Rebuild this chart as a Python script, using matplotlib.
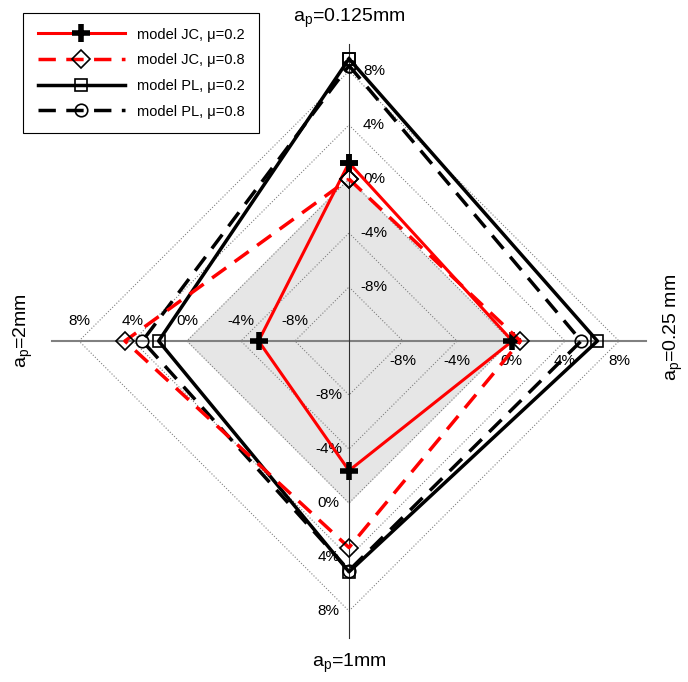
import numpy as np
import matplotlib
matplotlib.use('Agg')
import matplotlib.pyplot as plt

plt.rcParams['font.family'] = ['Liberation Sans', 'DejaVu Sans']

# axes: top, right, bottom, left
axis_names = [r'a$_\mathregular{p}$=0.125mm', r'a$_\mathregular{p}$=0.25 mm',
              r'a$_\mathregular{p}$=1mm', r'a$_\mathregular{p}$=2mm']
ticks = [-8, -4, 0, 4, 8]
r_min, r_max = -12, 10

jc_02 = [1.2, 0.1, -2.4, -5.3]
jc_08 = [0.0, 0.7, 3.3, 4.6]
pl_02 = [8.9, 6.4, 5.1, 2.1]
pl_08 = [8.4, 5.2, 5.0, 3.3]

dirs = np.array([[0, 1], [1, 0], [0, -1], [-1, 0]])
perp = np.array([[1, 0], [0, -1], [-1, 0], [0, 1]])


def to_xy(vals):
    r = np.asarray(vals) - r_min
    pts = dirs * r[:, None]
    pts = np.vstack([pts, pts[:1]])
    return pts[:, 0], pts[:, 1]


px = 13.5  # pixels per percent
fig = plt.figure(figsize=(6.88, 6.82), dpi=100)
ax = fig.add_axes([0, 0, 1, 1])
ax.set_xlim(-349 / px, (688 - 349) / px)
ax.set_ylim(-341 / px, 341 / px)
ax.axis('off')

# shaded 0% region
gx, gy = to_xy([0, 0, 0, 0])
ax.fill(gx, gy, color='#e6e6e6', zorder=0)

# dotted grid diamonds
for t in ticks:
    gx, gy = to_xy([t] * 4)
    ax.plot(gx, gy, ls=':', color='#808080', lw=0.8, zorder=1)

# axis lines
R = r_max - r_min
ax.plot([-R, R], [0, 0], color='#808080', lw=1.5, zorder=1)
ax.plot([0, 0], [-R, R], color='#303030', lw=0.8, zorder=1)

# tick labels
for i in range(4):
    off = 1.85 if i == 0 else 1.5
    for t in ticks:
        p = dirs[i] * (t - r_min) + perp[i] * off
        ax.text(p[0], p[1], '%d%%' % t, ha='center', va='center', fontsize=11)

# axis titles
ax.text(0, 23.9, axis_names[0], ha='center', va='center', fontsize=14)
ax.text(24.0, 1.0, axis_names[1], ha='center', va='center', fontsize=14, rotation=90)
ax.text(0, -23.9, axis_names[2], ha='center', va='center', fontsize=14)
ax.text(-24.1, 0.8, axis_names[3], ha='center', va='center', fontsize=14, rotation=90)

dash = (0, (5, 3))
x, y = to_xy(pl_02)
ax.plot(x, y, color='black', lw=2.5, marker='s', ms=8, mfc='none', mec='black', mew=1.2,
        label='model PL, μ=0.2', zorder=3)
x, y = to_xy(pl_08)
ax.plot(x, y, color='black', lw=2.5, ls=dash, marker='o', ms=9, mfc='none', mec='black', mew=1.2,
        label='model PL, μ=0.8', zorder=3)
x, y = to_xy(jc_02)
ax.plot(x, y, color='red', lw=2.2, marker='+', ms=13, mec='black', mew=4,
        label='model JC, μ=0.2', zorder=4)
x, y = to_xy(jc_08)
ax.plot(x, y, color='red', lw=2.5, ls=dash, marker='D', ms=9.5, mfc='none', mec='black', mew=1.2,
        label='model JC, μ=0.8', zorder=4)

h, l = ax.get_legend_handles_labels()
order = [2, 3, 0, 1]
leg = ax.legend([h[i] for i in order], [l[i] for i in order], loc='upper left',
                bbox_to_anchor=(23 / 688, 1 - 13 / 682), borderaxespad=0, fontsize=10.5,
                handlelength=6.0, handletextpad=0.8, labelspacing=0.8, borderpad=1.0,
                fancybox=False, edgecolor='black', framealpha=1)
leg.get_frame().set_linewidth(0.8)

fig.savefig('out.png', dpi=100)
